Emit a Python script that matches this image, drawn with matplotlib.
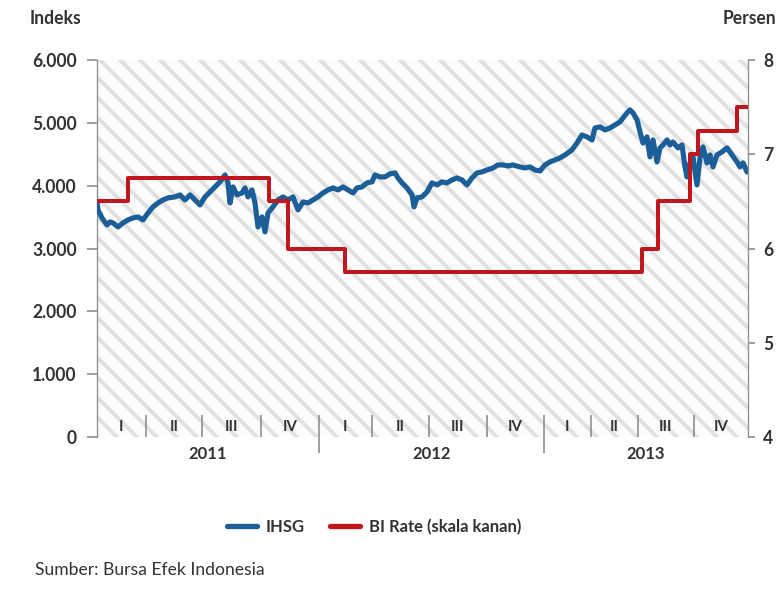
import matplotlib
matplotlib.use("Agg")
import matplotlib.pyplot as plt
from matplotlib.lines import Line2D
from matplotlib.patches import Rectangle

# ---------------- data ----------------
# x = trading-day index from start of 2011
ihsg_x = [0, 1, 5, 10, 13, 16, 21, 26, 31, 36, 41, 46, 51, 56, 61, 66, 71, 78, 83, 88,
          93, 98, 103, 108, 113, 118, 123, 128, 131, 133, 136, 140, 145, 148, 151, 155,
          158, 161, 165, 168, 171, 176, 181, 186, 191, 196, 201, 206, 211, 216, 221,
          226, 231, 236, 241, 246, 251, 256, 260, 265, 270, 275, 278, 283, 288, 293,
          298, 301, 305, 310, 315, 317, 320, 325, 330, 335, 340, 345, 350, 355, 360,
          365, 370, 375, 380, 385, 390, 396, 401, 406, 411, 416, 423, 428, 433, 438,
          443, 448, 453, 458, 463, 468, 475, 480, 485, 490, 495, 498, 503, 508, 513,
          518, 523, 526, 530, 533, 536, 540, 543, 546, 550, 553, 556, 560, 563, 566,
          570, 573, 576, 581, 585, 588, 590, 593, 596, 600, 603, 606, 610, 613, 616,
          620, 625, 630, 635, 640, 643, 646, 650]
ihsg_y = [3741, 3614, 3486, 3375, 3423, 3407, 3343, 3407, 3455, 3487, 3502, 3455,
          3566, 3662, 3725, 3773, 3805, 3821, 3853, 3773, 3853, 3773, 3693, 3821,
          3900, 3980, 4060, 4171, 4044, 3725, 3980, 3853, 3884, 3964, 3821, 3932,
          3725, 3343, 3502, 3264, 3566, 3662, 3773, 3821, 3773, 3821, 3614, 3741,
          3725, 3773, 3821, 3884, 3932, 3964, 3932, 3980, 3932, 3884, 3964, 3980,
          4044, 4060, 4171, 4139, 4139, 4187, 4203, 4123, 4044, 3964, 3853, 3662,
          3805, 3821, 3900, 4044, 4012, 4060, 4044, 4091, 4123, 4091, 4012, 4123,
          4203, 4219, 4250, 4282, 4330, 4330, 4314, 4330, 4298, 4282, 4298, 4250,
          4234, 4330, 4378, 4410, 4441, 4489, 4569, 4680, 4807, 4776, 4728, 4919,
          4935, 4887, 4919, 4967, 5015, 5078, 5158, 5206, 5158, 5047, 4856, 4680,
          4776, 4458, 4728, 4378, 4601, 4648, 4728, 4648, 4696, 4601, 4648, 4298,
          4139, 4362, 4458, 4012, 4441, 4617, 4362, 4489, 4298, 4489, 4537, 4601,
          4489, 4378, 4298, 4362, 4219]

# BI Rate step changes: day index where the new level starts
bi_x = [0, 31, 172, 191, 248, 545, 561, 593, 601, 640, 651]
bi_y = [6.50, 6.75, 6.50, 6.00, 5.75, 6.00, 6.50, 7.00, 7.25, 7.50, 7.50]

quarter_bounds = [0, 49, 105, 164, 222, 275, 332, 390, 447, 494, 541, 597, 651]
quarter_labels = ["I", "II", "III", "IV"] * 3
year_labels = ["2011", "2012", "2013"]
year_bounds = [0, 222, 447, 651]

left_ticks = [0, 1000, 2000, 3000, 4000, 5000, 6000]
left_tick_labels = ["0", "1.000", "2.000", "3.000", "4.000", "5.000", "6.000"]
right_ticks = [4, 5, 6, 7, 8]

# ---------------- style ----------------
DPI = 120
plt.rcParams["font.family"] = ["Lato", "DejaVu Sans"]
plt.rcParams["hatch.linewidth"] = 2.3
TXT = "#333333"
GRID = "#8f8f8f"
BLUE = "#1c5f98"
RED = "#c0161d"

fig = plt.figure(figsize=(779 / DPI, 592 / DPI), dpi=DPI, facecolor="white")
ax = fig.add_axes([97 / 779, 1 - 437 / 592, (748 - 97) / 779, (437 - 60) / 592])
ax.set_facecolor("white")
ax.add_patch(Rectangle((0, 0), 1, 1, transform=ax.transAxes, facecolor="#fcfcfc",
                       edgecolor="#e0e0e0", hatch="\\\\", lw=0, zorder=0))

ax.plot(ihsg_x, ihsg_y, color=BLUE, lw=3.1, solid_joinstyle="round",
        solid_capstyle="round", zorder=3)
ax.set_xlim(quarter_bounds[0], quarter_bounds[-1])
ax.set_ylim(0, 6000)

ax2 = ax.twinx()
ax2.step(bi_x, bi_y, where="post", color=RED, lw=2.4, zorder=2)
ax2.set_ylim(4, 8)

for a in (ax, ax2):
    for s in ("top", "bottom"):
        a.spines[s].set_visible(False)
    a.spines["left"].set_color(GRID)
    a.spines["right"].set_color(GRID)
    a.set_xticks([])

ax.spines["right"].set_visible(False)
ax2.spines["left"].set_visible(False)

ax.set_yticks(left_ticks)
ax.set_yticklabels(left_tick_labels)
ax.tick_params(axis="y", direction="out", length=6, width=1, color=GRID, pad=6,
               labelsize=10.5, labelcolor=TXT)
for t in ax.get_yticklabels():
    t.set_fontweight("bold")
ax2.set_yticks(right_ticks)
ax2.tick_params(axis="y", direction="out", length=4, width=1, color=GRID, pad=5,
                labelsize=10.5, labelcolor=TXT)
for t in ax2.get_yticklabels():
    t.set_fontweight("bold")

# quarter / year separators and labels
xt = ax.get_xaxis_transform()
inner = quarter_bounds[1:-1]
ax.vlines([b for b in inner if b not in year_bounds], 0, 0.058, transform=xt,
          color=GRID, lw=1.0, zorder=4)
ax.vlines([b for b in inner if b in year_bounds], -0.042, 0.058, transform=xt,
          color=GRID, lw=1.0, zorder=4, clip_on=False)
for i, lab in enumerate(quarter_labels):
    xm = (quarter_bounds[i] + quarter_bounds[i + 1]) / 2
    ax.text(xm, 0.026, lab, transform=xt, ha="center", va="center", fontsize=9,
            fontweight="bold", color=TXT, zorder=5)
for i, lab in enumerate(year_labels):
    xm = (year_bounds[i] + year_bounds[i + 1]) / 2
    ax.text(xm, -0.045, lab, transform=xt, ha="center", va="center", fontsize=10,
            fontweight="bold", color=TXT)

fig.text(30 / 779, 1 - 18 / 592, "Indeks", ha="left", va="center", fontsize=10.5,
         fontweight="bold", color=TXT)
fig.text(776 / 779, 1 - 18 / 592, "Persen", ha="right", va="center", fontsize=10.5,
         fontweight="bold", color=TXT)

handles = [Line2D([], [], color=BLUE, lw=3.2, solid_capstyle="round"),
           Line2D([], [], color=RED, lw=3.2, solid_capstyle="round")]
fig.legend(handles, ["IHSG", "BI Rate (skala kanan)"], loc="center",
           bbox_to_anchor=(374 / 779, 1 - 527 / 592), ncol=2, frameon=False,
           handlelength=1.8, columnspacing=1.5, handletextpad=0.55,
           prop={"size": 10, "weight": "bold"}, labelcolor=TXT)

fig.text(35 / 779, 1 - 570 / 592, "Sumber: Bursa Efek Indonesia", ha="left",
         va="center", fontsize=10.5, color=TXT)

fig.savefig("out.png", dpi=DPI, facecolor=fig.get_facecolor())
